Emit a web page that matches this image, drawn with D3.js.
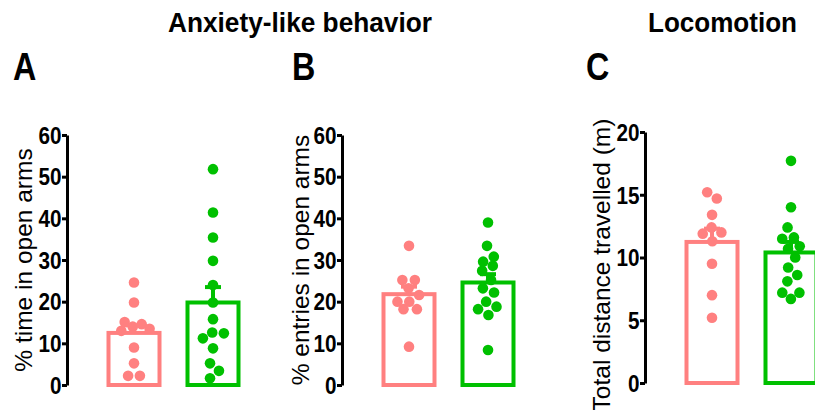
<!DOCTYPE html>
<html>
<head>
<meta charset="utf-8">
<script src="https://cdn.jsdelivr.net/npm/d3@7"></script>
<style>
  body { margin: 0; background: #fff; }
  text { font-family: "Liberation Sans", Arial, sans-serif; }
</style>
</head>
<body>
<div id="chart"></div>
<script>
// groups
var groups = ["Control", "Treatment"];
var colors = ["#ff8080", "#00c000"];

// A: % time in open arms
var timeCtrl = [24.6, 19.8, 15.1, 14.6, 14.0, 13.5, 13.0, 9.0, 5.2, 2.2, 2.2];
var timeTrt = [51.8, 41.4, 35.4, 29.8, 24.0, 19.8, 15.8, 12.6, 12.4, 11.2, 8.8, 5.2, 3.4, 1.6];
var timeMeans = [12.5, 19.8];
var timeSem = [1.8, 3.7];

// B: % entries in open arms
var entCtrl = [33.4, 25.2, 25.2, 23.2, 21.6, 20.0, 20.0, 18.2, 18.2, 9.2];
var entTrt = [39.0, 33.4, 30.8, 29.6, 28.6, 27.4, 25.2, 23.2, 22.2, 20.0, 18.8, 18.2, 16.8, 8.4];
var entMeans = [21.8, 24.6];
var entSem = [1.8, 2.0];

// C: total distance travelled (m)
var distCtrl = [15.2, 14.7, 13.4, 12.4, 12.0, 11.9, 11.3, 9.5, 7.0, 5.2];
var distTrt = [17.7, 14.0, 12.4, 11.6, 11.5, 10.9, 10.7, 10.0, 9.2, 8.6, 8.1, 7.2, 7.2, 6.7];
var distMeans = [11.24, 10.4];
var distSem = [1.06, 0.84];

var panels = [
  {letter: "A", letterX: 13, label: "% time in open arms", ticks: [0, 10, 20, 30, 40, 50, 60], max: 60,
   pts: [timeCtrl, timeTrt], means: timeMeans, sem: timeSem, axisX: 67, y0: 385, y1: 135, labelX: 32, labelY: 260},
  {letter: "B", letterX: 292, label: "% entries in open arms", ticks: [0, 10, 20, 30, 40, 50, 60], max: 60,
   pts: [entCtrl, entTrt], means: entMeans, sem: entSem, axisX: 342, y0: 385, y1: 135, labelX: 308.5, labelY: 260},
  {letter: "C", letterX: 586, label: "Total distance travelled (m)", ticks: [0, 5, 10, 15, 20], max: 20,
   pts: [distCtrl, distTrt], means: distMeans, sem: distSem, axisX: 645, y0: 383, y1: 132, labelX: 610, labelY: 265}
];

var width = 815, height = 410;
var svg = d3.select("#chart").append("svg")
  .attr("width", width)
  .attr("height", height);

// headings
svg.append("text").attr("x", 168).attr("y", 32)
  .attr("font-size", 28).attr("font-weight", "bold")
  .attr("textLength", 264).attr("lengthAdjust", "spacingAndGlyphs")
  .text("Anxiety-like behavior");
svg.append("text").attr("x", 648).attr("y", 32)
  .attr("font-size", 27).attr("font-weight", "bold")
  .attr("textLength", 149).attr("lengthAdjust", "spacingAndGlyphs")
  .text("Locomotion");

var barW = 51, dotR = 5.3;

panels.forEach(function(p) {
  var g = svg.append("g");
  var y = d3.scaleLinear().domain([0, p.max]).range([p.y0, p.y1]);
  var x = d3.scalePoint().domain(groups).range([p.axisX + 67, p.axisX + 146]);

  // panel letter
  g.append("text")
    .attr("transform", "translate(" + p.letterX + ",80) scale(0.85,1)")
    .attr("font-size", 38).attr("font-weight", "bold")
    .text(p.letter);

  // axis
  var axis = g.append("g")
    .attr("transform", "translate(" + p.axisX + ",0)")
    .call(d3.axisLeft(y).tickValues(p.ticks).tickSize(5).tickPadding(0).tickSizeOuter(0));
  axis.select(".domain").attr("stroke", "#000").attr("stroke-width", 3);
  axis.selectAll(".tick line").attr("stroke", "#000").attr("stroke-width", 3);
  axis.selectAll(".tick text")
    .attr("font-family", "Liberation Sans, Arial, sans-serif")
    .attr("font-size", 23).attr("font-weight", "bold").attr("fill", "#000")
    .attr("x", -5.5 / 0.9)
    .attr("transform", "scale(0.9,1)")
    .attr("dy", "0.36em");

  // y label
  g.append("text")
    .attr("transform", "translate(" + p.labelX + "," + p.labelY + ") rotate(-90)")
    .attr("text-anchor", "middle")
    .attr("font-size", 24.5)
    .text(p.label);

  // bars
  g.selectAll("rect.bar").data(groups).enter().append("rect")
    .attr("class", "bar")
    .attr("x", function(d) { return x(d) - barW / 2; })
    .attr("width", barW)
    .attr("y", function(d, i) { return y(p.means[i]); })
    .attr("height", function(d, i) { return y(0) - y(p.means[i]); })
    .attr("fill", "#fff")
    .attr("stroke", function(d, i) { return colors[i]; })
    .attr("stroke-width", 4);

  // dots, spread with a small collision simulation
  groups.forEach(function(grp, i) {
    var nodes = p.pts[i].map(function(v) { return {v: v, x: x(grp), y: y(v)}; });
    var sim = d3.forceSimulation(nodes)
      .force("x", d3.forceX(x(grp)).strength(0.08))
      .force("y", d3.forceY(function(d) { return y(d.v); }).strength(1))
      .force("collide", d3.forceCollide(dotR + 0.6))
      .stop();
    for (var k = 0; k < 200; k++) sim.tick();
    g.selectAll("circle.g" + i).data(nodes).enter().append("circle")
      .attr("class", "g" + i)
      .attr("cx", function(d) { return d.x; })
      .attr("cy", function(d) { return y(d.v); })
      .attr("r", dotR)
      .attr("fill", colors[i]);
  });

  // error bars (mean + sem)
  groups.forEach(function(grp, i) {
    var top = y(p.means[i] + p.sem[i]);
    g.append("line")
      .attr("x1", x(grp)).attr("x2", x(grp))
      .attr("y1", y(p.means[i])).attr("y2", top)
      .attr("stroke", colors[i]).attr("stroke-width", 4);
    g.append("line")
      .attr("x1", x(grp) - 8).attr("x2", x(grp) + 8)
      .attr("y1", top).attr("y2", top)
      .attr("stroke", colors[i]).attr("stroke-width", 4);
  });
});
</script>
</body>
</html>
